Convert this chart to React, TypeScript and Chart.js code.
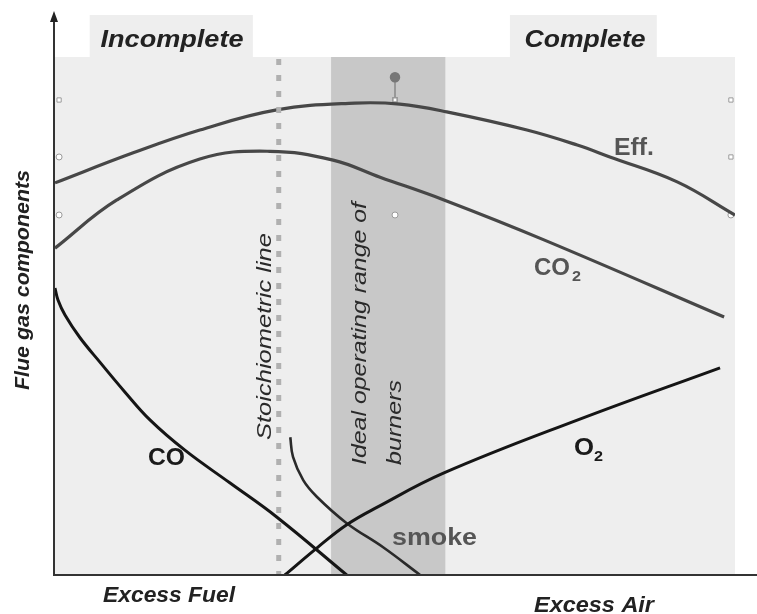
import React, { useEffect, useRef } from "react";
import { Chart, registerables } from "chart.js";
Chart.register(...registerables);

// Series values (x: excess air axis 0..100, y: relative level 0..100)
const effX = [0, 11.5, 21.3, 32.6, 44.1, 50.7, 57.6, 69.4, 76.8, 81.6, 91.5, 100];
const effY = [75.7, 81.5, 85.9, 89.8, 91.1, 90.9, 89.4, 85.9, 83.0, 80.7, 75.9, 69.5];
const co2X = [0, 9.1, 21.3, 31.6, 40.9, 47.8, 57.2, 71.9, 98.4];
const co2Y = [63.1, 72.4, 80.3, 81.8, 80.1, 76.8, 72.4, 64.7, 49.8];
const coX = [0, 0.44, 1.47, 3.68, 6.6, 10.3, 14.0, 19.1, 25.7, 32.6, 42.9];
const coY = [55.4, 53.1, 50.2, 45.8, 41.1, 35.3, 29.9, 24.1, 17.8, 11.2, 0];
const o2X = [33.8, 38.5, 42.9, 47.4, 57.2, 76.8, 97.8];
const o2Y = [0, 5.2, 9.7, 13.1, 19.7, 29.9, 40.0];
const smokeX = [34.6, 35.0, 36.5, 38.5, 42.9, 48.2, 53.7];
const smokeY = [26.6, 22.8, 18.3, 15.1, 10.0, 5.4, 0];

// selection-handle markers visible in the picture
const handleX = [0.6, 0.6, 0.6, 50, 50, 99.4, 99.4, 99.4];
const handleY = [91.7, 80.7, 69.5, 91.7, 69.5, 91.7, 80.7, 69.5];
const handleStyle = ["rect", "circle", "circle", "rect", "circle", "rect", "rect", "circle"];
const pinX = [50, 50];
const pinY = [96.1, 91.7];

// regions
const regionX = [0, 100];
const regionY = [0, 100];
const bandX = [40.6, 57.4];
const stoichX = 32.9;
const incompleteBoxX = [5.1, 29.1];
const completeBoxX = [66.9, 88.5];
const boxTopY = 108.1;

const zip = (xs: number[], ys: number[]) => xs.map((x, i) => ({ x, y: ys[i] }));

function fitText(ctx: CanvasRenderingContext2D, text: string, x: number, y: number, width: number, rot = 0) {
  ctx.save();
  ctx.translate(x, y);
  if (rot) ctx.rotate(rot);
  const w = ctx.measureText(text).width;
  ctx.scale(width / w, 1);
  ctx.fillText(text, 0, 0);
  ctx.restore();
}

const SANS = '"Liberation Sans", Arial, sans-serif';

const bgPlugin = {
  id: "bg",
  beforeDatasetsDraw(chart: any) {
    const { ctx, scales } = chart;
    const xs = scales.x, ys = scales.y;
    ctx.save();
    ctx.fillStyle = "#eeeeee";
    const l = xs.getPixelForValue(regionX[0]), r = xs.getPixelForValue(regionX[1]);
    const t = ys.getPixelForValue(regionY[1]), b = ys.getPixelForValue(regionY[0]);
    ctx.fillRect(l, t, r - l, b - t);
    const bt = ys.getPixelForValue(boxTopY);
    for (const box of [incompleteBoxX, completeBoxX]) {
      const bl = xs.getPixelForValue(box[0]), br = xs.getPixelForValue(box[1]);
      ctx.fillRect(bl, bt, br - bl, t - bt);
    }
    ctx.fillStyle = "#c8c8c8";
    const b1 = xs.getPixelForValue(bandX[0]), b2 = xs.getPixelForValue(bandX[1]);
    ctx.fillRect(b1, t, b2 - b1, b - t);
    ctx.restore();
  },
  afterDatasetsDraw(chart: any) {
    const { ctx, scales } = chart;
    const xs = scales.x, ys = scales.y;
    const t = ys.getPixelForValue(regionY[1]), b = ys.getPixelForValue(regionY[0]);
    ctx.save();
    // stoichiometric dotted line
    const sx = xs.getPixelForValue(stoichX);
    ctx.strokeStyle = "#b0b0b0";
    ctx.lineWidth = 5;
    ctx.setLineDash([6, 10]);
    ctx.beginPath();
    ctx.moveTo(sx, t + 2);
    ctx.lineTo(sx, b);
    ctx.stroke();
    ctx.setLineDash([]);

    // axes
    const ax = xs.getPixelForValue(0) - 1;
    ctx.strokeStyle = "#333";
    ctx.lineWidth = 2;
    ctx.beginPath();
    ctx.moveTo(ax, b + 1);
    ctx.lineTo(ax, 20);
    ctx.stroke();
    ctx.beginPath();
    ctx.moveTo(ax - 1, b);
    ctx.lineTo(chart.width, b);
    ctx.stroke();
    ctx.fillStyle = "#222";
    ctx.beginPath();
    ctx.moveTo(ax, 11);
    ctx.lineTo(ax - 4, 22);
    ctx.lineTo(ax + 4, 22);
    ctx.closePath();
    ctx.fill();

    // texts
    ctx.textBaseline = "alphabetic";
    ctx.textAlign = "center";
    ctx.fillStyle = "#222";
    ctx.font = `bold italic 23px ${SANS}`;
    fitText(ctx, "Incomplete", 172, 47, 143);
    fitText(ctx, "Complete", 585, 47, 121);

    ctx.textAlign = "left";
    ctx.fillStyle = "#555";
    ctx.font = `bold 24px ${SANS}`;
    fitText(ctx, "Eff.", 614, 155, 40);
    fitText(ctx, "CO", 534, 275, 36);
    ctx.font = `bold 15px ${SANS}`;
    fitText(ctx, "2", 572, 281, 9);

    ctx.fillStyle = "#1a1a1a";
    ctx.font = `bold 24px ${SANS}`;
    fitText(ctx, "CO", 148, 465, 37);
    fitText(ctx, "O", 574, 455, 20);
    ctx.font = `bold 14px ${SANS}`;
    fitText(ctx, "2", 594, 461, 9);

    ctx.fillStyle = "#555";
    ctx.font = `bold 23px ${SANS}`;
    fitText(ctx, "smoke", 392, 545, 85);

    const R = -Math.PI / 2;
    ctx.fillStyle = "#2a2a2a";
    ctx.font = `italic 20px ${SANS}`;
    fitText(ctx, "Stoichiometric line", 271, 440, 207, R);
    fitText(ctx, "Ideal operating range of", 366, 465, 263, R);
    fitText(ctx, "burners", 401, 465, 85, R);

    ctx.fillStyle = "#222";
    ctx.font = `bold italic 20px ${SANS}`;
    fitText(ctx, "Flue gas components", 29, 390, 220, R);
    ctx.font = `bold italic 22px ${SANS}`;
    fitText(ctx, "Excess Fuel", 103, 602, 132);
    fitText(ctx, "Excess Air", 534, 612, 120);
    ctx.restore();
  },
};

export default function App() {
  const ref = useRef<HTMLCanvasElement | null>(null);
  useEffect(() => {
    document.body.style.margin = "0";
    if (!ref.current) return;
    const line = (data: any, color: string, width: number) => ({
      data,
      borderColor: color,
      borderWidth: width,
      pointRadius: 0,
      fill: false,
      tension: 0.4,
      borderCapStyle: "butt" as const,
    });
    const chart = new Chart(ref.current, {
      type: "line",
      data: {
        datasets: [
          line(zip(effX, effY), "#474747", 3.2),
          line(zip(co2X, co2Y), "#474747", 3.2),
          line(zip(coX, coY), "#151515", 3),
          line(zip(o2X, o2Y), "#151515", 3),
          line(zip(smokeX, smokeY), "#2a2a2a", 2.6),
          {
            data: zip(pinX, pinY),
            borderColor: "#888",
            borderWidth: 1.5,
            pointRadius: [4.5, 3],
            pointBackgroundColor: ["#777", "#fff"],
            pointBorderColor: ["#777", "#999"],
            pointStyle: ["circle", "rect"],
            showLine: true,
          } as any,
          {
            data: zip(handleX, handleY),
            showLine: false,
            pointRadius: 3,
            pointStyle: handleStyle,
            pointBackgroundColor: "#fff",
            pointBorderColor: "#9a9a9a",
            pointBorderWidth: 1,
          } as any,
        ],
      },
      options: {
        animation: false,
        responsive: false,
        events: [],
        layout: { padding: { left: 55, right: 22, top: 57, bottom: 39 } },
        scales: {
          x: { type: "linear", min: 0, max: 100, display: false },
          y: { type: "linear", min: 0, max: 100, display: false },
        },
        plugins: { legend: { display: false }, tooltip: { enabled: false } },
      },
      plugins: [bgPlugin],
    });
    return () => chart.destroy();
  }, []);
  return (
    <div style={{ width: 757, height: 614, background: "#fff" }}>
      <canvas ref={ref} width={757} height={614} style={{ display: "block" }} />
    </div>
  );
}
